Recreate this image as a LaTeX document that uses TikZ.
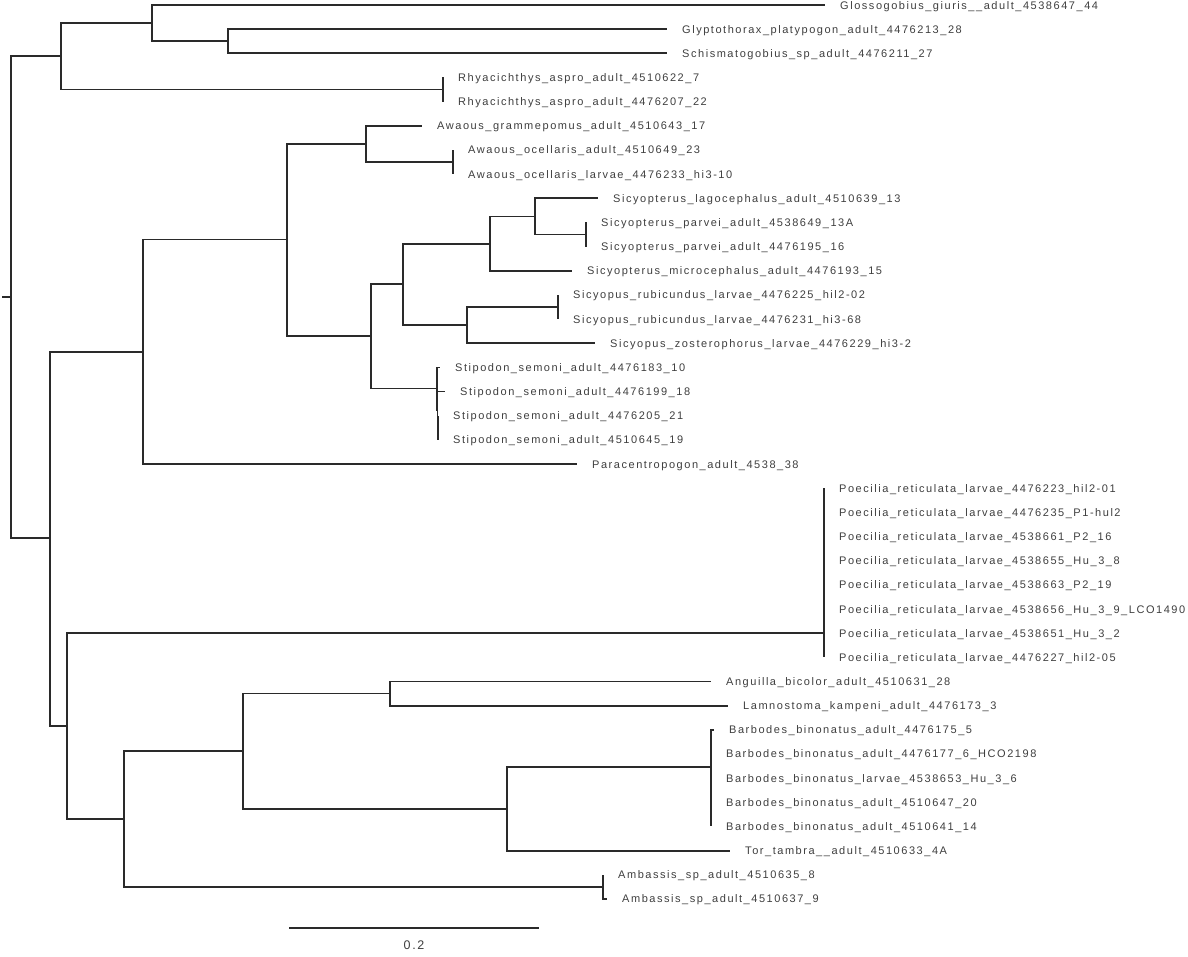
\documentclass[tikz,border=0pt]{standalone}
\usepackage{fontspec}
\newfontfamily\labfont{Liberation Sans}[LetterSpace=14]
\definecolor{linecol}{HTML}{2A2A2A}
\definecolor{labcol}{HTML}{3E3E3E}
\tikzset{
  br/.style={draw=linecol, line width=1.8pt},
  lab/.style={anchor=base west, inner sep=0pt, text=labcol, font=\labfont\fontsize{11}{13}\selectfont, yshift=-4pt, xshift=15pt},
  barlab/.style={inner sep=0pt, text=labcol, font=\labfont\fontsize{12.5}{14}\selectfont}
}
\begin{document}
\begin{tikzpicture}[x=1pt,y=-1pt]
\useasboundingbox (0,0) rectangle (1188,956);
% internal nodes
\coordinate (R0) at (2,297);
\coordinate (R) at (11,297);
\coordinate (T) at (61,56);
\coordinate (G) at (152,23);
\coordinate (GS) at (228,41.24);
\coordinate (Rh) at (443,89.56);
\coordinate (B) at (50,538);
\coordinate (Gob) at (143,351.8);
\coordinate (AS) at (287,239.5);
\coordinate (Aw) at (366,143.9);
\coordinate (AwO) at (453,162.04);
\coordinate (SA) at (371,336);
\coordinate (Sic) at (403,284);
\coordinate (Sy) at (490,243.6);
\coordinate (Sy2) at (535,216.4);
\coordinate (Par) at (586,234.52);
\coordinate (Sp) at (467,325.1);
\coordinate (Rub) at (558,307);
\coordinate (Stip) at (437,388.5);
\coordinate (StB) at (437.5,409.7);
\coordinate (StC) at (438,427.8);
\coordinate (Low) at (67,725.75);
\coordinate (Poe) at (824,633.16);
\coordinate (Out) at (124,818.9);
\coordinate (AB) at (243,751);
\coordinate (Ang) at (390,693.56);
\coordinate (Bar) at (507,808.6);
\coordinate (BB) at (711,766.7);
\coordinate (Amb) at (603,886.84);
% leaf tips
\coordinate (t1) at (825,5);
\coordinate (t2) at (667,29.16);
\coordinate (t3) at (667,53.32);
\coordinate (t4) at (443,77.48);
\coordinate (t5) at (443,101.64);
\coordinate (t6) at (422,125.8);
\coordinate (t7) at (453,149.96);
\coordinate (t8) at (453,174.12);
\coordinate (t9) at (598,198.28);
\coordinate (t10) at (586,222.44);
\coordinate (t11) at (586,246.6);
\coordinate (t12) at (572,270.76);
\coordinate (t13) at (558,294.92);
\coordinate (t14) at (558,319.08);
\coordinate (t15) at (595,343.24);
\coordinate (t16) at (440,367.4);
\coordinate (t17) at (445,391.56);
\coordinate (t18) at (438,415.72);
\coordinate (t19) at (438,439.88);
\coordinate (t20) at (577,464.04);
\coordinate (t21) at (824,488.2);
\coordinate (t22) at (824,512.36);
\coordinate (t23) at (824,536.52);
\coordinate (t24) at (824,560.68);
\coordinate (t25) at (824,584.84);
\coordinate (t26) at (824,609);
\coordinate (t27) at (824,633.16);
\coordinate (t28) at (824,657.32);
\coordinate (t29) at (711,681.48);
\coordinate (t30) at (728,705.64);
\coordinate (t31) at (714,729.8);
\coordinate (t32) at (711,753.96);
\coordinate (t33) at (711,778.12);
\coordinate (t34) at (711,802.28);
\coordinate (t35) at (711,826.44);
\coordinate (t36) at (730,850.6);
\coordinate (t37) at (603,874.76);
\coordinate (t38) at (607,898.92);
% branches
\draw[br] (R0) -- (R);
\draw[br] (R) |- (T);
\draw[br] (R) |- (B);
\draw[br] (T) |- (G);
\draw[br] (T) |- (Rh);
\draw[br] (G) |- (t1);
\draw[br] (G) |- (GS);
\draw[br] (GS) |- (t2);
\draw[br] (GS) |- (t3);
\draw[br] (Rh) |- (t4);
\draw[br] (Rh) |- (t5);
\draw[br] (B) |- (Gob);
\draw[br] (B) |- (Low);
\draw[br] (Gob) |- (AS);
\draw[br] (Gob) |- (t20);
\draw[br] (AS) |- (Aw);
\draw[br] (AS) |- (SA);
\draw[br] (Aw) |- (t6);
\draw[br] (Aw) |- (AwO);
\draw[br] (AwO) |- (t7);
\draw[br] (AwO) |- (t8);
\draw[br] (SA) |- (Sic);
\draw[br] (SA) |- (Stip);
\draw[br] (Sic) |- (Sy);
\draw[br] (Sic) |- (Sp);
\draw[br] (Sy) |- (Sy2);
\draw[br] (Sy) |- (t12);
\draw[br] (Sy2) |- (t9);
\draw[br] (Sy2) |- (Par);
\draw[br] (Par) |- (t10);
\draw[br] (Par) |- (t11);
\draw[br] (Sp) |- (Rub);
\draw[br] (Sp) |- (t15);
\draw[br] (Rub) |- (t13);
\draw[br] (Rub) |- (t14);
\draw[br] (Stip) |- (t16);
\draw[br] (Stip) |- (StB);
\draw[br] (StB) |- (t17);
\draw[br] (StB) |- (StC);
\draw[br] (StC) |- (t18);
\draw[br] (StC) |- (t19);
\draw[br] (Low) |- (Poe);
\draw[br] (Low) |- (Out);
\foreach \i in {21,...,28} { \draw[br] (Poe) |- (t\i); }
\draw[br] (Out) |- (AB);
\draw[br] (Out) |- (Amb);
\draw[br] (AB) |- (Ang);
\draw[br] (AB) |- (Bar);
\draw[br] (Ang) |- (t29);
\draw[br] (Ang) |- (t30);
\draw[br] (Bar) |- (BB);
\draw[br] (Bar) |- (t36);
\foreach \i in {31,...,35} { \draw[br] (BB) |- (t\i); }
\draw[br] (Amb) |- (t37);
\draw[br] (Amb) |- (t38);
% labels
\node[lab] (n1) at (t1) {Glossogobius\_giuris\_\_adult\_4538647\_44};
\node[lab] (n2) at (t2) {Glyptothorax\_platypogon\_adult\_4476213\_28};
\node[lab] (n3) at (t3) {Schismatogobius\_sp\_adult\_4476211\_27};
\node[lab] (n4) at (t4) {Rhyacichthys\_aspro\_adult\_4510622\_7};
\node[lab] (n5) at (t5) {Rhyacichthys\_aspro\_adult\_4476207\_22};
\node[lab] (n6) at (t6) {Awaous\_grammepomus\_adult\_4510643\_17};
\node[lab] (n7) at (t7) {Awaous\_ocellaris\_adult\_4510649\_23};
\node[lab] (n8) at (t8) {Awaous\_ocellaris\_larvae\_4476233\_hi3-10};
\node[lab] (n9) at (t9) {Sicyopterus\_lagocephalus\_adult\_4510639\_13};
\node[lab] (n10) at (t10) {Sicyopterus\_parvei\_adult\_4538649\_13A};
\node[lab] (n11) at (t11) {Sicyopterus\_parvei\_adult\_4476195\_16};
\node[lab] (n12) at (t12) {Sicyopterus\_microcephalus\_adult\_4476193\_15};
\node[lab] (n13) at (t13) {Sicyopus\_rubicundus\_larvae\_4476225\_hil2-02};
\node[lab] (n14) at (t14) {Sicyopus\_rubicundus\_larvae\_4476231\_hi3-68};
\node[lab] (n15) at (t15) {Sicyopus\_zosterophorus\_larvae\_4476229\_hi3-2};
\node[lab] (n16) at (t16) {Stipodon\_semoni\_adult\_4476183\_10};
\node[lab] (n17) at (t17) {Stipodon\_semoni\_adult\_4476199\_18};
\node[lab] (n18) at (t18) {Stipodon\_semoni\_adult\_4476205\_21};
\node[lab] (n19) at (t19) {Stipodon\_semoni\_adult\_4510645\_19};
\node[lab] (n20) at (t20) {Paracentropogon\_adult\_4538\_38};
\node[lab] (n21) at (t21) {Poecilia\_reticulata\_larvae\_4476223\_hil2-01};
\node[lab] (n22) at (t22) {Poecilia\_reticulata\_larvae\_4476235\_P1-hul2};
\node[lab] (n23) at (t23) {Poecilia\_reticulata\_larvae\_4538661\_P2\_16};
\node[lab] (n24) at (t24) {Poecilia\_reticulata\_larvae\_4538655\_Hu\_3\_8};
\node[lab] (n25) at (t25) {Poecilia\_reticulata\_larvae\_4538663\_P2\_19};
\node[lab] (n26) at (t26) {Poecilia\_reticulata\_larvae\_4538656\_Hu\_3\_9\_LCO1490};
\node[lab] (n27) at (t27) {Poecilia\_reticulata\_larvae\_4538651\_Hu\_3\_2};
\node[lab] (n28) at (t28) {Poecilia\_reticulata\_larvae\_4476227\_hil2-05};
\node[lab] (n29) at (t29) {Anguilla\_bicolor\_adult\_4510631\_28};
\node[lab] (n30) at (t30) {Lamnostoma\_kampeni\_adult\_4476173\_3};
\node[lab] (n31) at (t31) {Barbodes\_binonatus\_adult\_4476175\_5};
\node[lab] (n32) at (t32) {Barbodes\_binonatus\_adult\_4476177\_6\_HCO2198};
\node[lab] (n33) at (t33) {Barbodes\_binonatus\_larvae\_4538653\_Hu\_3\_6};
\node[lab] (n34) at (t34) {Barbodes\_binonatus\_adult\_4510647\_20};
\node[lab] (n35) at (t35) {Barbodes\_binonatus\_adult\_4510641\_14};
\node[lab] (n36) at (t36) {Tor\_tambra\_\_adult\_4510633\_4A};
\node[lab] (n37) at (t37) {Ambassis\_sp\_adult\_4510635\_8};
\node[lab] (n38) at (t38) {Ambassis\_sp\_adult\_4510637\_9};
% scale bar
\coordinate (sb1) at (289,928);
\coordinate (sb2) at (539,928);
\draw[br] (sb1) -- (sb2);
\node[barlab] (sbl) at (414,945) {0.2};
\end{tikzpicture}
\end{document}
